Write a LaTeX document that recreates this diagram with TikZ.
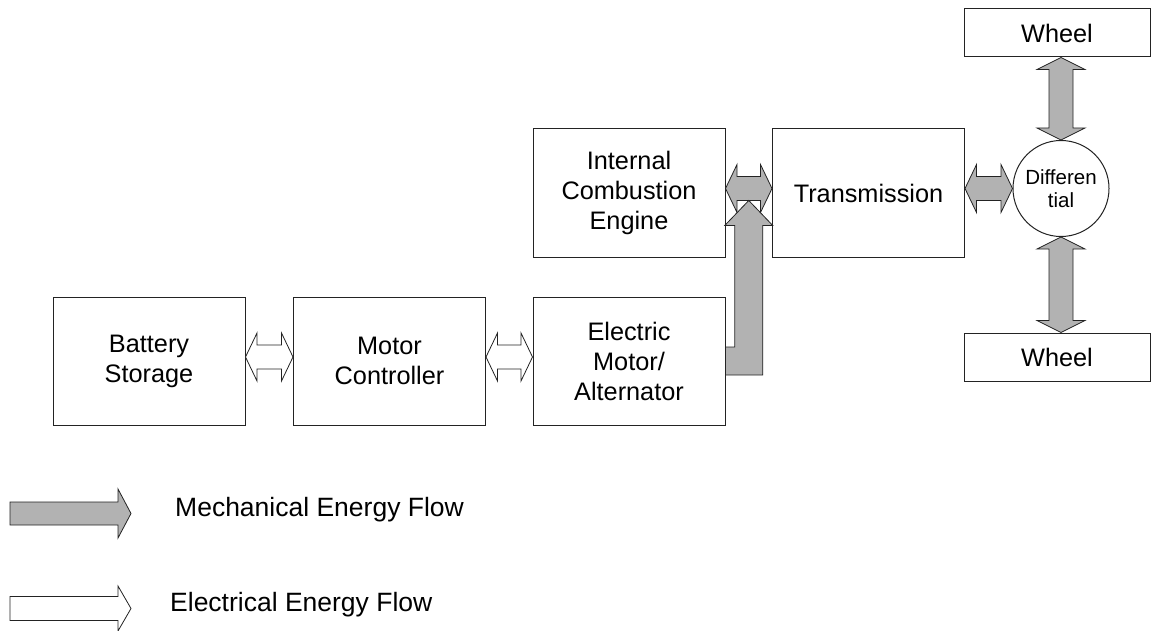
\documentclass[tikz,border=0pt]{standalone}
\usepackage{fontspec}
\setmainfont{Liberation Sans}
\usetikzlibrary{calc}
\definecolor{mech}{RGB}{178,178,178}
\definecolor{edge}{RGB}{35,35,35}
\tikzset{
  blk/.style={draw=edge, line width=1pt, minimum width=192pt, minimum height=128pt,
    inner sep=0pt, align=center, font=\fontsize{25.3}{30}\selectfont},
  wheelbox/.style={blk, minimum width=186pt, minimum height=48pt},
  diffnode/.style={circle, draw=edge, line width=1pt, minimum size=96pt, inner sep=0pt,
    align=center, font=\fontsize{20.5}{23}\selectfont},
  mecharrow/.style={draw=edge, line width=0.8pt, fill=mech, line join=miter},
  elecarrow/.style={draw=edge, line width=0.8pt, fill=white, line join=miter},
  legtext/.style={anchor=base west, inner sep=0pt, font=\fontsize{26.5}{30}\selectfont},
}
% horizontal double block arrow: #1 style, #2 left tip, #3 right tip (same height)
\newcommand{\hdarrow}[3]{%
  \draw[#1] let \p1=(#2), \p2=(#3) in
    (\x1,\y1) -- (\x1+11.5pt,\y1+24pt) -- (\x1+11.5pt,\y1+12pt) -- (\x2-11.5pt,\y1+12pt)
    -- (\x2-11.5pt,\y1+24pt) -- (\x2,\y1) -- (\x2-11.5pt,\y1-24pt) -- (\x2-11.5pt,\y1-12pt)
    -- (\x1+11.5pt,\y1-12pt) -- (\x1+11.5pt,\y1-24pt) -- cycle;}
% vertical double block arrow: #1 style, #2 top tip, #3 bottom tip
\newcommand{\vdarrow}[3]{%
  \draw[#1] let \p1=(#2), \p2=(#3) in
    (\x1,\y1) -- (\x1+24pt,\y1-12pt) -- (\x1+12pt,\y1-12pt) -- (\x1+12pt,\y2+12pt)
    -- (\x1+24pt,\y2+12pt) -- (\x1,\y2) -- (\x1-24pt,\y2+12pt) -- (\x1-12pt,\y2+12pt)
    -- (\x1-12pt,\y1-12pt) -- (\x1-24pt,\y1-12pt) -- cycle;}
\begin{document}
\begin{tikzpicture}[x=1pt,y=-1pt]
\useasboundingbox (0,0) rectangle (1151,631);

% blocks
\node[blk] (bat) at (149,361) {Battery\\Storage};
\node[blk] (mc)  at (389.5,361) {Motor\\Controller};
\node[blk] (em)  at (629,361) {Electric\\Motor/\\Alternator};
\node[blk] (ice) at (629,193) {Internal\\Combustion\\Engine};
\node[blk] (tr)  at (868.5,193) {Transmission};
\node[wheelbox] (wt) at (1057,33) {Wheel};
\node[wheelbox] (wb) at (1057,357) {Wheel};
\node[diffnode] (df) at (1061,188.5) {Differen\\tial};

% reference heights
\coordinate (ye) at (0,357);
\coordinate (ym) at (0,188.5);

% electrical flows
\hdarrow{elecarrow}{bat.east |- ye}{mc.west |- ye}
\hdarrow{elecarrow}{mc.east |- ye}{em.west |- ye}

% mechanical flows
\hdarrow{mecharrow}{ice.east |- ym}{tr.west |- ym}
\hdarrow{mecharrow}{tr.east |- ym}{df.west}
\vdarrow{mecharrow}{wt.south -| df.north}{df.north}
\vdarrow{mecharrow}{df.south}{wb.north -| df.south}

% bent arrow from electric motor up into the transmission link
\draw[mecharrow] let \p1=(em.east), \p2=($(ice.east)!0.5!(tr.west)$), \p3=(ym) in
  (\x1,\y1-14pt) -- (\x2+14pt,\y1-14pt) -- (\x2+14pt,\y3-37pt) -- (\x2+24pt,\y3-37pt)
  -- (\x2,\y3-12pt) -- (\x2-24pt,\y3-37pt) -- (\x2-14pt,\y3-37pt) -- (\x2-14pt,\y1+14pt)
  -- (\x1,\y1+14pt) -- cycle;

% legend
\coordinate (lm) at (10,513.5);
\coordinate (le) at (10,608.5);
\draw[mecharrow] (lm) ++(0pt,11.5pt) -- ++(108pt,0pt) -- ++(0pt,13pt) -- ++(13pt,-24.5pt)
  -- ++(-13pt,-24.5pt) -- ++(0pt,13pt) -- ++(-108pt,0pt) -- cycle;
\draw[elecarrow] (le) ++(0pt,12pt) -- ++(108pt,0pt) -- ++(0pt,10.5pt) -- ++(13pt,-22.5pt)
  -- ++(-13pt,-22.5pt) -- ++(0pt,10.5pt) -- ++(-108pt,0pt) -- cycle;
\node[legtext] (lmt) at (175,516) {Mechanical Energy Flow};
\node[legtext] (let) at (170,611.5) {Electrical Energy Flow};
\end{tikzpicture}
\end{document}
